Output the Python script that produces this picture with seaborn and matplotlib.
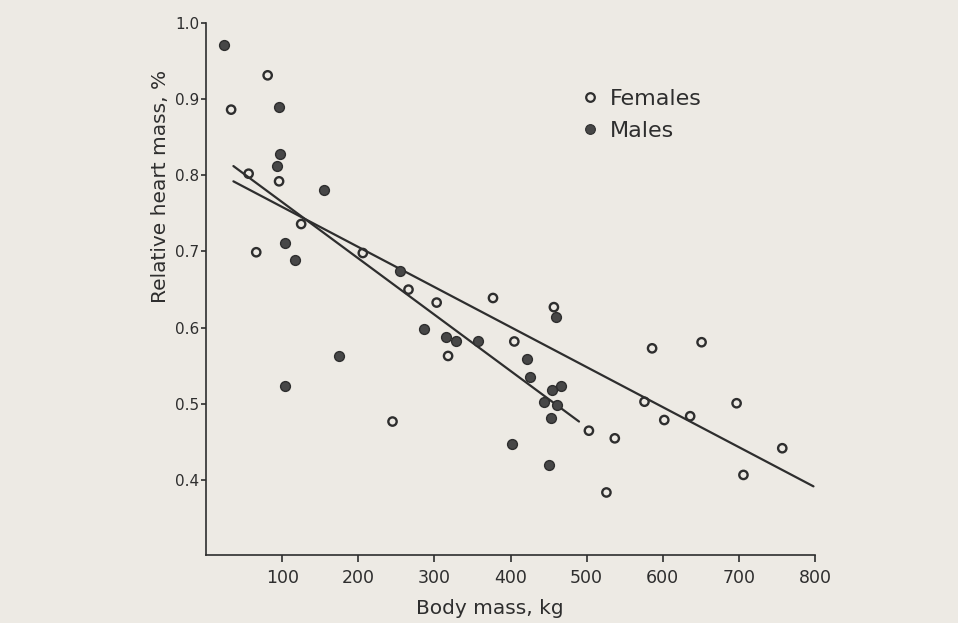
import matplotlib
matplotlib.use("Agg")
import matplotlib.pyplot as plt
import seaborn as sns
import pandas as pd
from matplotlib.lines import Line2D

# ---- data ----
female_mass = [81, 33, 56, 96, 125, 66, 206, 266, 303, 377, 457, 405, 318, 586,
               651, 245, 576, 602, 636, 697, 503, 537, 757, 706, 526]
female_heart = [0.931, 0.886, 0.802, 0.792, 0.736, 0.699, 0.698, 0.650, 0.633,
                0.639, 0.627, 0.582, 0.563, 0.573, 0.581, 0.477, 0.503, 0.479,
                0.484, 0.501, 0.465, 0.455, 0.442, 0.407, 0.384]
male_mass = [23, 96, 97, 93, 155, 104, 117, 255, 460, 287, 315, 328, 357, 175,
             104, 422, 425, 466, 454, 444, 461, 453, 402, 451]
male_heart = [0.971, 0.889, 0.828, 0.812, 0.781, 0.711, 0.689, 0.674, 0.614,
              0.598, 0.588, 0.582, 0.582, 0.563, 0.524, 0.559, 0.536, 0.524,
              0.518, 0.503, 0.499, 0.482, 0.447, 0.420]

# regression lines as drawn (end points)
male_line_mass = [36, 490]
male_line_heart = [0.812, 0.477]
female_line_mass = [36, 798]
female_line_heart = [0.792, 0.392]

x_ticks = [100, 200, 300, 400, 500, 600, 700, 800]
y_ticks = [0.4, 0.5, 0.6, 0.7, 0.8, 0.9, 1.0]
y_tick_labels = ["0.4", "0.5", "0.6", "0.7", "0.8", "0.9", "1.0"]
legend_labels = ["Females", "Males"]

females = pd.DataFrame({"mass": female_mass, "heart": female_heart})
males = pd.DataFrame({"mass": male_mass, "heart": male_heart})
fline = pd.DataFrame({"mass": female_line_mass, "heart": female_line_heart})
mline = pd.DataFrame({"mass": male_line_mass, "heart": male_line_heart})

sns.set_style("ticks")
plt.rcParams["font.family"] = ["DejaVu Sans"]

bg = "#edeae4"
ink = "#2e2e2e"

fig = plt.figure(figsize=(9.58, 6.23), dpi=100, facecolor=bg)
ax = fig.add_axes([206 / 958, 1 - 555 / 623, 609 / 958, (555 - 22.7) / 623])
ax.set_facecolor(bg)

sns.lineplot(data=fline, x="mass", y="heart", ax=ax, color=ink, linewidth=1.6)
sns.lineplot(data=mline, x="mass", y="heart", ax=ax, color=ink, linewidth=1.6)

sns.scatterplot(data=females, x="mass", y="heart", ax=ax, s=36,
                facecolor="none", edgecolor=ink, linewidth=1.7, zorder=3,
                legend=False)
sns.scatterplot(data=males, x="mass", y="heart", ax=ax, s=50,
                facecolor="#474747", edgecolor=ink, linewidth=1.0, zorder=3,
                legend=False)

ax.set_xlim(0, 800)
ax.set_ylim(0.302, 1.0)
ax.set_xticks(x_ticks)
ax.set_xticklabels([str(t) for t in x_ticks])
ax.set_yticks(y_ticks)
ax.set_yticklabels(y_tick_labels)

for s in ["top", "right"]:
    ax.spines[s].set_visible(False)
for s in ["left", "bottom"]:
    ax.spines[s].set_color(ink)
    ax.spines[s].set_linewidth(1.2)

ax.tick_params(axis="x", direction="out", length=5, width=1.2, color=ink,
               labelsize=12.5, labelcolor=ink, pad=5)
ax.tick_params(axis="y", direction="out", length=3.5, width=1.2, color=ink,
               labelsize=11, labelcolor=ink, pad=1.5)

ax.set_xlabel("Body mass, kg", fontsize=14.5, color=ink)
ax.set_ylabel("Relative heart mass, %", fontsize=14.5, color=ink)
ax.xaxis.set_label_coords((490 - 206) / 609, -(609 - 555) / 532.3)
ax.xaxis.label.set_va("center")
ax.yaxis.set_label_coords((160 - 206) / 609, 1 - (186 - 22.7) / 532.3)
ax.yaxis.label.set_va("center")

handles = [
    Line2D([], [], linestyle="none", marker="o", markersize=6.2,
           markerfacecolor="none", markeredgecolor=ink, markeredgewidth=1.6),
    Line2D([], [], linestyle="none", marker="o", markersize=7,
           markerfacecolor="#474747", markeredgecolor=ink, markeredgewidth=0.8),
]
fig.legend(handles, legend_labels, loc="upper left",
           bbox_to_anchor=(585.6 / 958, 1 - 88.7 / 623), frameon=False,
           fontsize=16, handlelength=0.4, handletextpad=0.7,
           labelspacing=0.55, borderpad=0, borderaxespad=0,
           labelcolor=ink)

fig.savefig("out.png", dpi=100, facecolor=bg)
